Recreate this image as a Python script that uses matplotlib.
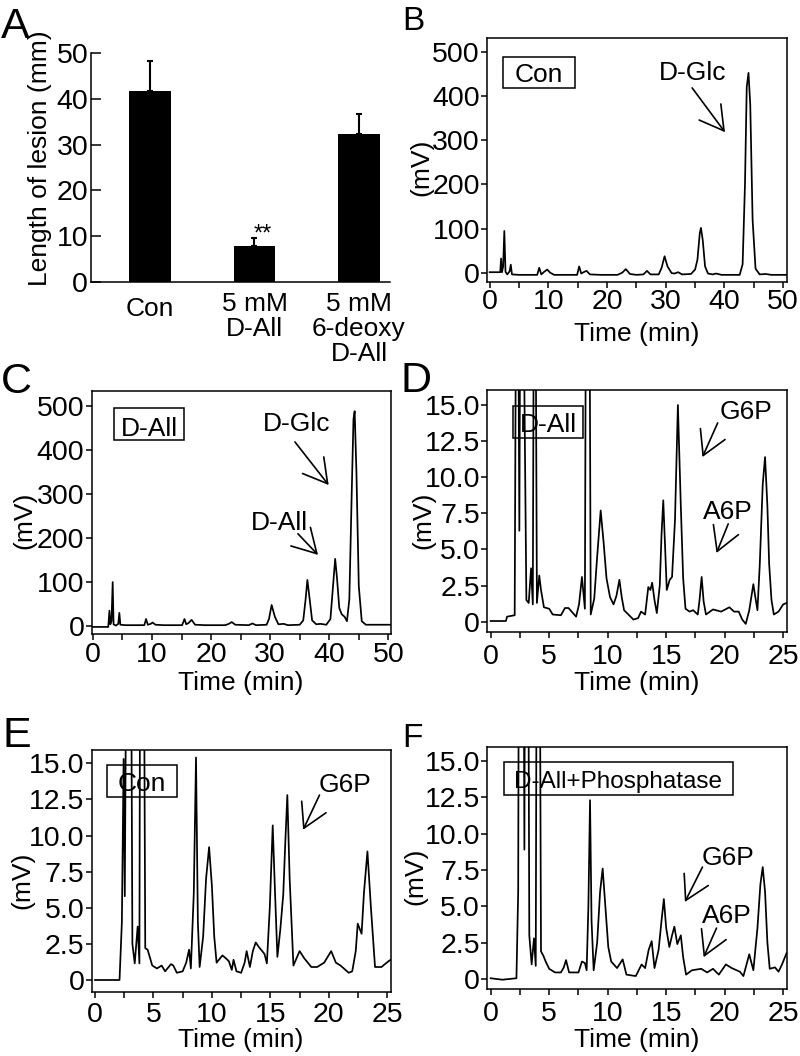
import numpy as np
import matplotlib
matplotlib.use('Agg')
import matplotlib.pyplot as plt
from matplotlib.patches import Rectangle
from matplotlib.transforms import Affine2D, blended_transform_factory

plt.rcParams['font.family'] = ['Liberation Sans', 'DejaVu Sans']

W, H = 800, 1056
TICK = 20.5   # tick label size
TXT = 19      # labels and annotations

# panel A: lesion length (mm)
groups = ['Con', '5 mM\nD-All', '5 mM\n6-deoxy\nD-All']
lesion = [41.7, 7.9, 32.3]
lesion_err = [6.5, 1.6, 4.4]

# chromatograms as (time min, signal mV)
# spikes running off the top are given 40-60 and get clipped by the frame
trace_b = [(0, 2), (1.8, 2), (1.95, 33), (2.1, 2), (2.3, 15), (2.5, 95), (2.7, 3), (3.0, -3),
           (3.4, 4), (3.6, 19), (3.8, -3), (5.0, -4), (8.1, -4), (8.45, 12), (8.8, -3), (9.3, 3),
           (9.8, 8), (10.3, 1), (11.0, -4), (14.9, -4), (15.25, 15), (15.6, -1), (16.0, 2),
           (16.5, 5), (17.1, -3), (19.0, -4), (21.8, -4), (22.6, 1), (23.2, 9), (23.9, -2),
           (25.0, -4), (26.2, -3), (26.8, 5), (27.4, -3), (28.8, -3), (29.3, 12), (29.8, 38),
           (30.3, 15), (31.0, 0), (31.5, -1), (32.1, 2), (32.8, -3), (34.3, -2), (35.0, 8),
           (35.4, 30), (35.8, 90), (36.0, 102), (36.3, 75), (36.7, 15), (37.2, -1), (38.0, -3),
           (38.6, -1), (39.5, -4), (42.6, -4), (43.1, 20), (43.5, 200), (43.8, 420), (44.1, 452),
           (44.4, 380), (44.8, 120), (45.3, 10), (46.0, -3), (47.0, -2), (48.0, -4), (50.7, -4)]

trace_c = [(0, -3), (2.6, -3), (2.8, 34), (2.95, 3), (3.15, 10), (3.35, 99), (3.5, 3), (3.9, 0),
           (4.3, 4), (4.48, 29), (4.65, 2), (5.5, 1), (8.7, 1), (9.0, 15), (9.3, 2), (9.8, 4),
           (10.1, 7), (10.6, 2), (12.0, 1), (15.1, 1), (15.5, 15), (15.8, 3), (16.2, 6),
           (16.7, 13), (17.3, 2), (19.0, 1), (22.4, 1), (23.0, 4), (23.5, 8), (24.1, 2), (26.4, 1),
           (27.0, 5), (27.6, 1), (29.4, 2), (29.8, 15), (30.25, 47), (30.8, 20), (31.4, 3),
           (32.3, 4), (33.0, 1), (35.0, 2), (35.6, 12), (36.0, 60), (36.3, 104), (36.6, 70),
           (37.1, 12), (37.8, 3), (38.5, 4), (39.5, 2), (40.2, 15), (40.7, 100), (41.0, 152),
           (41.3, 110), (41.7, 40), (42.1, 26), (42.6, 20), (43.0, 10), (43.4, 60), (43.8, 300),
           (44.1, 470), (44.3, 488), (44.6, 350), (45.0, 90), (45.5, 10), (46.2, 2), (50.4, 2)]

trace_d = [(0, 0.05), (1.3, 0.05), (1.4, 0.35), (2.05, 0.45), (2.25, 40), (2.45, 6.3), (2.6, 40),
           (3.05, 1.5), (3.25, 1.3), (3.45, 3.7), (3.6, 1.2), (3.75, 40), (3.95, 1.3), (4.15, 3.2),
           (4.3, 2.2), (4.55, 1.0), (5.0, 0.9), (5.3, 0.5), (6.0, 0.45), (6.35, 0.95), (6.65, 0.95),
           (7.3, 0.35), (7.55, 1.2), (7.8, 3.1), (8.05, 0.9), (8.28, 60), (8.55, 0.5), (8.85, 1.6),
           (9.1, 4.5), (9.4, 7.7), (9.65, 5.5), (9.9, 3.0), (10.2, 1.7), (10.5, 1.2), (10.75, 1.8),
           (11.0, 2.9), (11.2, 1.7), (11.4, 0.8), (12.2, 0.15), (12.6, 0.25), (12.85, 0.7),
           (13.2, 0.5), (13.47, 2.4), (13.65, 2.2), (13.8, 2.7), (14.0, 1.5), (14.2, 0.6),
           (14.45, 2.5), (14.6, 6.0), (14.75, 8.4), (15.05, 2.2), (15.3, 2.9), (15.5, 3.1),
           (15.75, 7.0), (16.0, 15.0), (16.25, 8.0), (16.45, 3.0), (16.65, 0.9), (17.0, 0.7),
           (17.3, 0.8), (17.7, 0.5), (17.85, 1.5), (18.03, 3.1), (18.2, 1.4), (18.4, 0.5),
           (19.0, 0.85), (19.7, 0.7), (20.4, 1.0), (20.8, 0.7), (21.2, 0.7), (21.5, 0.15),
           (21.8, -0.15), (22.1, 0.8), (22.45, 2.6), (22.6, 1.8), (22.8, 0.8), (23.0, 4.0),
           (23.25, 9.5), (23.45, 11.4), (23.65, 8.0), (23.8, 4.0), (24.0, 1.5), (24.2, 0.5),
           (24.6, 0.7), (25.0, 1.2), (25.3, 1.3)]

trace_e = [(0, 0.0), (2.1, 0.0), (2.3, 4.0), (2.45, 15.3), (2.55, 5.8), (2.8, 40), (3.0, 40),
           (3.2, 2.5), (3.4, 1.15), (3.65, 3.7), (3.8, 1.15), (3.9, 40), (4.1, 40), (4.3, 2.2),
           (4.5, 2.1), (4.9, 1.0), (5.3, 0.8), (5.7, 1.0), (6.0, 0.6), (6.5, 1.1), (6.7, 1.0),
           (7.0, 0.5), (7.5, 0.6), (7.8, 1.2), (8.05, 2.1), (8.2, 0.8), (8.45, 6.0), (8.64, 15.4),
           (8.8, 4.0), (8.95, 0.9), (9.25, 3.0), (9.5, 7.0), (9.76, 9.2), (10.0, 6.5), (10.2, 3.0),
           (10.4, 1.2), (10.9, 1.7), (11.2, 1.5), (11.45, 1.3), (11.7, 0.7), (11.85, 1.4),
           (12.1, 0.6), (12.5, 0.5), (12.8, 1.2), (12.97, 2.0), (13.25, 0.9), (13.5, 2.0),
           (13.75, 2.6), (14.0, 2.3), (14.3, 2.0), (14.5, 1.8), (14.7, 1.15), (14.95, 5.0),
           (15.2, 10.7), (15.4, 6.0), (15.6, 1.6), (15.85, 3.5), (16.1, 5.9), (16.3, 10.0),
           (16.45, 12.8), (16.65, 7.0), (16.97, 1.0), (17.5, 2.0), (17.9, 1.5), (18.5, 0.9),
           (19.0, 0.9), (19.6, 1.2), (20.2, 2.0), (20.6, 1.2), (21.0, 1.0), (21.7, 0.5),
           (22.0, 0.6), (22.3, 2.0), (22.47, 3.9), (22.8, 3.2), (23.0, 6.0), (23.3, 8.9),
           (23.6, 5.0), (23.95, 0.9), (24.5, 0.9), (25.1, 1.3), (25.3, 1.4)]

trace_f = [(0, 0.05), (1.0, -0.05), (2.2, 0.05), (2.35, 6.0), (2.45, 40), (2.75, 40), (2.88, 8.9),
           (2.98, 40), (3.15, 40), (3.3, 3.0), (3.5, 1.0), (3.7, 2.8), (3.85, 0.9), (3.98, 40),
           (4.12, 40), (4.3, 1.9), (4.5, 1.6), (4.7, 1.2), (5.0, 0.7), (5.5, 0.45), (6.0, 0.45),
           (6.25, 0.8), (6.44, 1.3), (6.7, 0.45), (7.5, 0.45), (7.8, 1.2), (8.05, 1.1), (8.2, 0.6),
           (8.35, 5.0), (8.49, 12.3), (8.62, 4.0), (8.8, 0.6), (9.1, 2.5), (9.35, 6.0), (9.57, 7.6),
           (9.8, 5.0), (10.05, 2.2), (10.3, 1.2), (10.8, 0.75), (11.28, 1.35), (11.6, 0.3),
           (12.4, 0.2), (12.9, 1.0), (13.2, 0.75), (13.5, 2.0), (13.76, 2.6), (14.0, 0.75),
           (14.35, 2.0), (14.6, 4.0), (14.8, 5.5), (15.0, 3.5), (15.27, 2.2), (15.5, 3.0),
           (15.7, 3.6), (15.95, 2.4), (16.25, 3.0), (16.45, 1.5), (16.7, 0.3), (17.2, 0.6),
           (18.0, 0.7), (18.5, 0.45), (19.0, 0.7), (19.5, 0.3), (20.1, 1.0), (20.6, 0.75),
           (21.3, 0.5), (21.6, 0.2), (22.1, 1.7), (22.45, 0.6), (22.8, 3.5), (23.05, 6.5),
           (23.25, 7.7), (23.45, 6.0), (23.65, 2.5), (23.85, 0.7), (24.3, 0.8), (24.6, 0.5),
           (24.9, 1.0), (25.2, 1.6), (25.3, 1.8)]

mv_ticks_big = [0, 100, 200, 300, 400, 500]
mv_ticks_small = [0, 2.5, 5.0, 7.5, 10.0, 12.5, 15.0]
mv_labels_small = ['0', '2.5', '5.0', '7.5', '10.0', '12.5', '15.0']

fig = plt.figure(figsize=(W / 100, H / 100), dpi=100)
# pixel coordinates measured from the top-left corner of the picture
pix = Affine2D().scale(1 / W, -1 / H).translate(0, 1) + fig.transFigure


def axes_px(left, top, right, bottom):
    return fig.add_axes([left / W, 1 - bottom / H, (right - left) / W, (bottom - top) / H])


def label(x, y, s, size=TXT, **kw):
    fig.text(x, y, s, transform=pix, fontsize=size, **kw)


def box(s, left, top, right, bottom, base, size=TXT):
    fig.add_artist(Rectangle((left, top), right - left, bottom - top, transform=pix,
                             fill=False, ec='black', lw=1.1))
    label((left + right) / 2, base, s, size, ha='center', va='baseline')


def arrow(ax, start, tip):
    ax.annotate('', xy=tip, xytext=start,
                arrowprops=dict(arrowstyle='->,head_length=1.69,head_width=0.97',
                                mutation_scale=10, lw=1.2, color='black',
                                shrinkA=0, shrinkB=0))


def chrom(rect, trace, xlim, ylim, xstep, yticks, ylabels, xpad):
    ax = axes_px(*rect)
    t, mv = np.array(trace).T
    ax.plot(t, mv, color='black', lw=1.25)
    ax.set_xlim(xlim)
    ax.set_ylim(ylim)
    ax.set_xticks(np.arange(0, xlim[1], xstep))
    ax.set_xticks(np.arange(0, xlim[1], xstep / 2), minor=True)
    ax.set_yticks(yticks, ylabels)
    for sp in ax.spines.values():
        sp.set_linewidth(1.1)
    ax.tick_params(which='both', direction='out', width=1.1, labelsize=TICK)
    ax.tick_params(axis='x', which='both', length=4, pad=xpad)
    ax.tick_params(axis='y', length=4.3, pad=1.0)
    return ax


# ---- A
ax = axes_px(91, 53, 390, 282)
x = np.arange(len(groups))
ax.bar(x, lesion, width=0.4, color='black')
ax.errorbar(x, lesion, yerr=[np.zeros(len(x)), lesion_err], fmt='none', ecolor='black',
            elinewidth=1.5, capsize=2.5, capthick=1.5)
ax.set_xlim(-0.565, 2.297)
ax.set_ylim(0, 50)
ax.spines['top'].set_visible(False)
ax.spines['right'].set_visible(False)
ax.spines['left'].set_linewidth(1.1)
ax.spines['bottom'].set_linewidth(1.1)
ax.set_xticks([])
ax.set_yticks(range(0, 51, 10))
ax.tick_params(axis='y', direction='in', length=7.5, width=1.1, labelsize=TICK, pad=2)
lab = blended_transform_factory(ax.transData, pix)
for xi, g, top in zip(x, groups, [297, 292, 292]):
    ax.text(xi, top, g, transform=lab, ha='center', va='top', fontsize=TXT,
            linespacing=1.05)
ax.text(1.08, 8.95, '**', ha='center', va='baseline', fontsize=17)
label(40, 158, 'Length of lesion (mm)', rotation=90, ha='center', va='center')

# ---- B
ax = chrom((487.3, 38.3, 787, 281.5), trace_b, (-0.4, 50.66), (-19, 530), 10,
           mv_ticks_big, None, 1.5)
box('Con', 503, 57, 575, 88, 82)
ax.text(34.6, 436, 'D-Glc', ha='center', va='baseline', fontsize=TXT)
arrow(ax, (34.5, 418), (40.1, 318))
label(421, 167, '(mV)', rotation=90, ha='center', va='center')
label(637, 341, 'Time (min)', ha='center', va='baseline')

# ---- C
ax = chrom((91.7, 391, 390.7, 634), trace_c, (-0.2, 50.4), (-19.1, 534), 10,
           mv_ticks_big, None, 2)
box('D-All', 114, 408, 184, 440, 436)
ax.text(34.4, 443, 'D-Glc', ha='center', va='baseline', fontsize=TXT)
arrow(ax, (34.2, 418), (39.9, 320))
ax.text(31.5, 218, 'D-All', ha='center', va='baseline', fontsize=TXT)
arrow(ax, (34.7, 209), (38.1, 161))
label(24, 520, '(mV)', rotation=90, ha='center', va='center')
label(241, 690, 'Time (min)', ha='center', va='baseline')

# ---- D
ax = chrom((487.3, 390, 786.7, 631.7), trace_d, (-0.29, 25.3), (-0.69, 16.04), 5,
           mv_ticks_small, mv_labels_small, 4.5)
box('D-All', 513, 406, 583, 438, 432)
ax.text(21.8, 14.04, 'G6P', ha='center', va='baseline', fontsize=TXT)
arrow(ax, (19.4, 13.76), (18.1, 11.4))
ax.text(20.3, 7.09, 'A6P', ha='center', va='baseline', fontsize=TXT)
arrow(ax, (20.3, 6.77), (19.3, 4.76))
label(423, 520, '(mV)', rotation=90, ha='center', va='center')
label(637, 690, 'Time (min)', ha='center', va='baseline')

# ---- E
ax = chrom((91.7, 750, 390.7, 991.7), trace_e, (-0.28, 25.29), (-0.81, 15.92), 5,
           mv_ticks_small, mv_labels_small, 3.5)
box('Con', 107, 765, 177, 797, 791)
ax.text(21.4, 13.04, 'G6P', ha='center', va='baseline', fontsize=TXT)
arrow(ax, (19.2, 12.8), (17.8, 10.4))
label(22, 880, '(mV)', rotation=90, ha='center', va='center')
label(241, 1047, 'Time (min)', ha='center', va='baseline')

# ---- F
ax = chrom((487.3, 746.7, 786.7, 989.3), trace_f, (-0.29, 25.3), (-0.71, 15.98), 5,
           mv_ticks_small, mv_labels_small, 4.5)
box('D-All+Phosphatase', 504, 762, 733, 795, 788, 17.5)
ax.text(20.3, 7.85, 'G6P', ha='center', va='baseline', fontsize=TXT)
arrow(ax, (18.1, 7.7), (16.6, 5.3))
ax.text(20.2, 3.87, 'A6P', ha='center', va='baseline', fontsize=TXT)
arrow(ax, (19.3, 3.5), (18.2, 1.5))
label(415, 876, '(mV)', rotation=90, ha='center', va='center')
label(637, 1047, 'Time (min)', ha='center', va='baseline')

# panel letters
for s, px, py, size in [('A', 1, 38, 31), ('B', 402, 30, 24), ('C', 1, 393, 31),
                        ('D', 401, 392, 31), ('E', 2, 747, 31), ('F', 402, 747, 24)]:
    label(px, py, s, size, va='baseline')

fig.savefig('out.png', dpi=100)
